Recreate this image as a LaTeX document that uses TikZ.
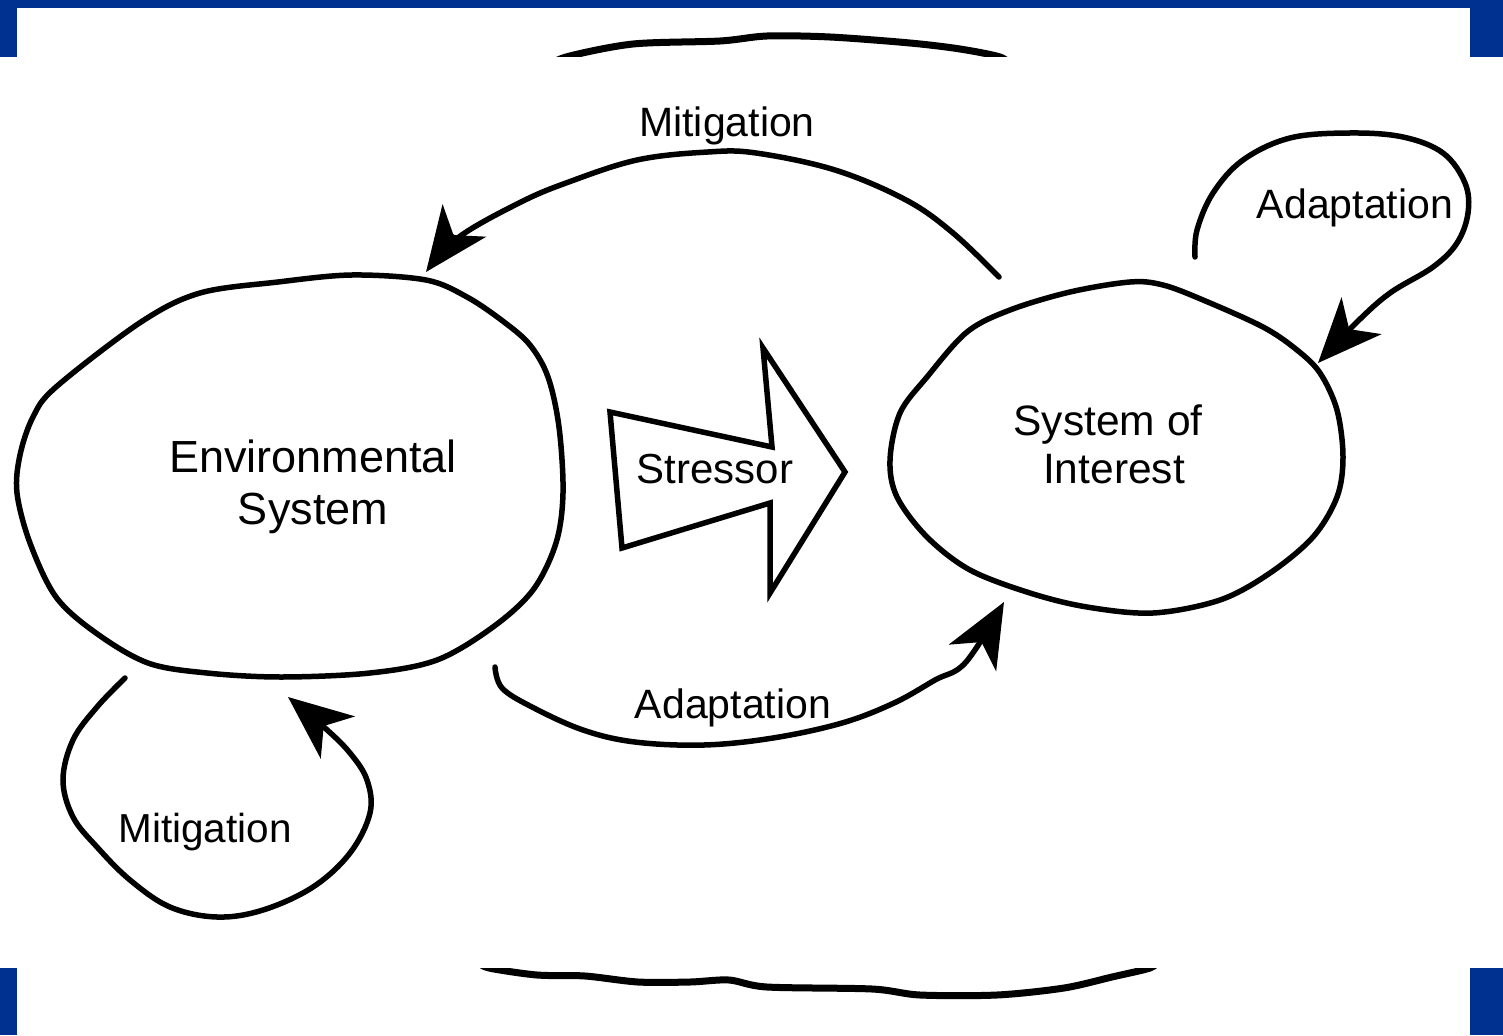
\documentclass[tikz,border=0pt]{standalone}
\usepackage{fontspec}
\setmainfont{Liberation Sans}
\usetikzlibrary{arrows.meta}
\definecolor{frameblue}{RGB}{0,48,144}
\begin{document}
\begin{tikzpicture}[x=1pt,y=-1pt,
  blob/.style={line width=5.5pt, line join=round},
  conn/.style={line width=5.5pt, line cap=round, -{Stealth[length=64pt,width=54pt,inset=18pt]}},
  lbl/.style={anchor=base, inner sep=0pt, font=\fontsize{41}{49}\selectfont},
  bigtxt/.style={anchor=base, inner sep=0pt, font=\fontsize{45}{53}\selectfont},
  midtxt/.style={anchor=base, inner sep=0pt, font=\fontsize{42.5}{50}\selectfont},
  scrap/.style={line width=7pt, line join=round}
]
\useasboundingbox (0,0) rectangle (1503,1035);
% frame
\fill[white] (0,0) rectangle (1503,1035);
\fill[frameblue] (0,0) rectangle (1503,8);
\fill[frameblue] (0,0) rectangle (17,57);
\fill[frameblue] (1470,0) rectangle (1503,57);
\fill[frameblue] (0,968) rectangle (17,1035);
\fill[frameblue] (1470,968) rectangle (1503,1035);
% scraps of a larger outline
\begin{scope}
\clip (17,8) rectangle (1470,57);
\draw[scrap] plot[smooth] coordinates {(545,68) (566,57) (633,44) (720,41) (767,36) (830,37) (910,43) (960,49) (1000,57) (1012,66)};
\end{scope}
\begin{scope}
\clip (17,968) rectangle (1470,1035);
\draw[scrap] plot[smooth] coordinates {(478,962) (489,968) (537,975) (585,976) (638,982) (690,982) (729,980) (767,987) (872,989) (920,995) (997,995) (1064,988) (1112,977) (1150,968) (1158,961)};
\end{scope}
% Environmental System
\draw[blob] plot[smooth cycle, tension=0.55] coordinates {(278,282) (352,275) (426,280) (467,297) (504,322) (530,345) (548,377) (559,427) (563,493) (556,543) (533,590) (493,627) (437,660) (370,673) (281,677) (207,673) (148,663) (96,633) (56,597) (30,543) (17,493) (20,455) (33,417) (56,387) (141,322) (200,293)};
\node[bigtxt] (envA) at (313,472) {Environmental};
\node[bigtxt] (envB) at (313,524) {System};
% System of Interest
\draw[blob] plot[smooth cycle, tension=0.55] coordinates {(1130,282) (1163,285) (1203,300) (1263,327) (1297,350) (1320,373) (1337,410) (1343,457) (1337,497) (1313,537) (1270,573) (1220,600) (1153,613) (1087,607) (1030,593) (970,570) (927,537) (897,497) (890,460) (900,413) (927,377) (967,332) (1010,310) (1070,292)};
\node[midtxt] (soiA) at (1108,435) {System of};
\node[midtxt] (soiB) at (1114,483) {Interest};
% Stressor block arrow
\draw[line width=5.5pt, line join=miter] (610,412) -- (772,447) -- (763,348) -- (845,472) -- (770,593) -- (770,503) -- (622,548) -- cycle;
\node[anchor=base, inner sep=0pt, font=\fontsize{42}{50}\selectfont] (stressor) at (715,483) {Stressor};
% connector ends
\coordinate (mtS) at (999,277);
\coordinate (mtE) at (426,272);
\coordinate (abS) at (495,667);
\coordinate (abE) at (1004,602);
\coordinate (arS) at (1195,257);
\coordinate (arE) at (1318,363);
\coordinate (mbS) at (125,678);
\coordinate (mbE) at (288,697);
% Mitigation (top)
\draw[conn] plot[smooth, tension=0.6] coordinates {(mtS) (953,233) (906,200) (835,170) (756,153) (708,152) (637,160) (566,183) (519,203) (459,237) (mtE)};
\node[lbl] (mitTop) at (727,137) {Mitigation};
% Adaptation (bottom)
\draw[conn] plot[smooth, tension=0.6] coordinates {(abS) (502,688) (532,707) (583,730) (635,742) (704,745) (773,738) (842,723) (894,703) (935,680) (966,662) (abE)};
\node[lbl] (adaBot) at (733,718) {Adaptation};
% Adaptation (right loop)
\draw[conn] plot[smooth, tension=0.6] coordinates {(arS) (1197,230) (1213,193) (1243,160) (1290,138) (1350,133) (1403,137) (1443,153) (1465,183) (1468,213) (1457,243) (1433,267) (1390,293) (1357,322) (arE)};
\node[lbl] (adaRight) at (1355,218) {Adaptation};
% Mitigation (bottom-left loop)
\draw[conn] plot[smooth, tension=0.6] coordinates {(mbS) (97,707) (73,740) (63,780) (73,817) (97,847) (130,880) (170,907) (217,917) (263,910) (313,887) (350,853) (370,813) (367,780) (350,753) (325,728) (mbE)};
\node[lbl, font=\fontsize{40.5}{48}\selectfont] (mitBot) at (205,842) {Mitigation};
\end{tikzpicture}
\end{document}
